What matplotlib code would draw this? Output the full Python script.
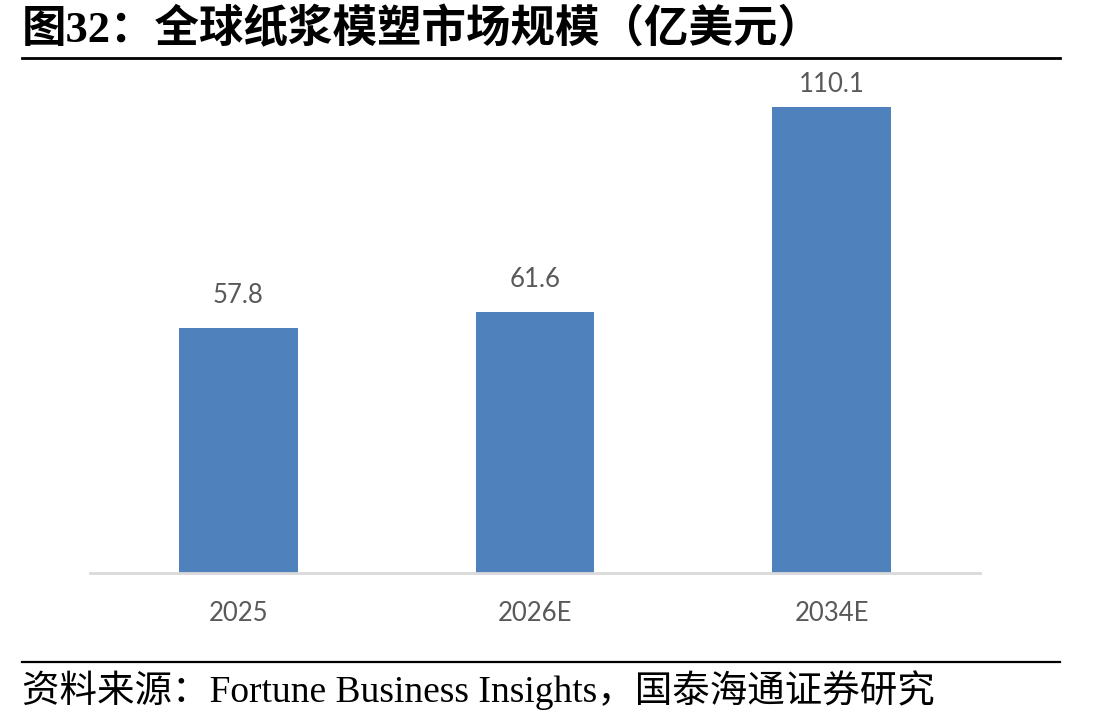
import matplotlib
matplotlib.use("Agg")
import matplotlib.pyplot as plt
from matplotlib.lines import Line2D

categories = ["2025", "2026E", "2034E"]
values = [57.8, 61.6, 110.1]
value_labels = ["57.8", "61.6", "110.1"]
title = "图32：全球纸浆模塑市场规模（亿美元）"
source = "资料来源：Fortune Business Insights，国泰海通证券研究"

W, H = 1108, 721
fig = plt.figure(figsize=(W / 100, H / 100), dpi=100)

def fx(px):
    return px / W

def fy(py):
    return 1 - py / H

ax_left, ax_right, ax_base, ax_top = 90, 980, 573, 92
ax = fig.add_axes([fx(ax_left), fy(ax_base), (ax_right - ax_left) / W, (ax_base - ax_top) / H])
ppu = (573 - 107) / 110.1
ymax = (ax_base - ax_top) / ppu
ax.set_ylim(0, ymax)
ax.set_xlim(-0.5, len(categories) - 0.5)

x = list(range(len(categories)))
bars = ax.bar(x, values, width=0.4, color="#4F81BD", zorder=2)

num_font = ["Lato", "DejaVu Sans"]
gap = 25 / ppu
for xi, v, lab in zip(x, values, value_labels):
    ax.text(xi, min(v + gap, ymax), lab, ha="center", va="baseline",
            fontsize=18.5, color="#595959", family=num_font, clip_on=False)

for s in ["top", "right", "left"]:
    ax.spines[s].set_visible(False)
ax.spines["bottom"].set_color("#D9D9D9")
ax.spines["bottom"].set_linewidth(2)
ax.set_yticks([])
ax.set_xticks(x)
ax.set_xticklabels(categories, fontsize=18.5, color="#595959", family=num_font)
ax.tick_params(axis="x", length=0, pad=20)

# title
fig.text(fx(22), fy(30), title, fontsize=32, fontweight="bold",
         family=["Liberation Serif", "Noto Sans CJK SC"], ha="left", va="center",
         color="black")
fig.add_artist(Line2D([fx(22), fx(1060)], [fy(58), fy(58)], color="black", lw=2, transform=fig.transFigure))

# source
fig.add_artist(Line2D([fx(22), fx(1060)], [fy(662), fy(662)], color="black", lw=1.6, transform=fig.transFigure))
fig.text(fx(22), fy(690), source, fontsize=27,
         family=["Liberation Serif", "Noto Sans CJK SC"], ha="left", va="center",
         color="black")

fig.savefig("out.png", dpi=100)
